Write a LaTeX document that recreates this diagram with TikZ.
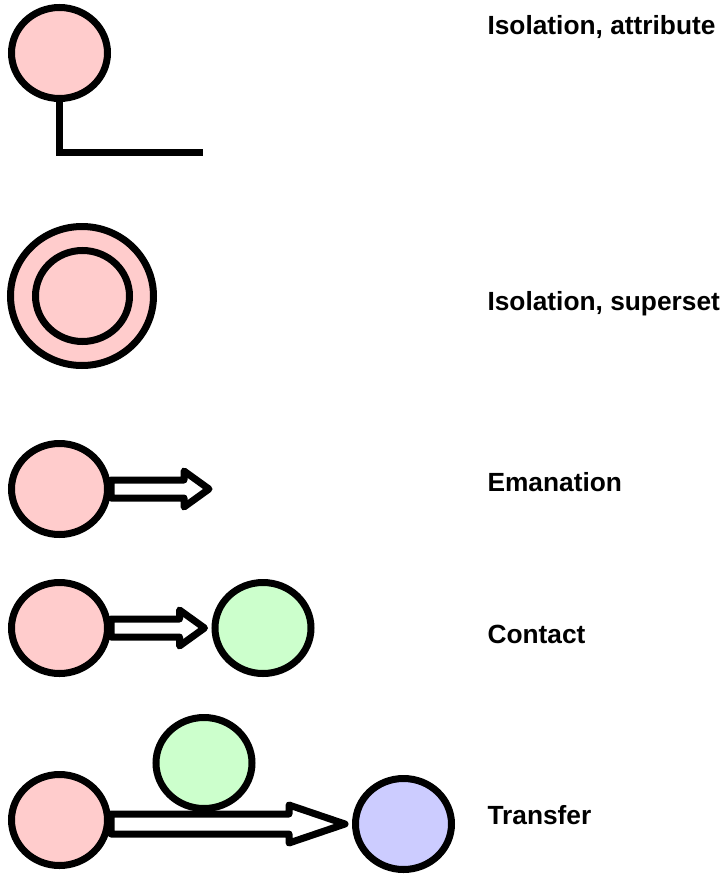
\documentclass[tikz,border=0pt]{standalone}
\usepackage{fontspec}
\setmainfont{Liberation Sans}
\usetikzlibrary{shapes.geometric}
\definecolor{pinkfill}{HTML}{FFCCCC}
\definecolor{greenfill}{HTML}{CCFFCC}
\definecolor{bluefill}{HTML}{CCCCFF}
\tikzset{
	blob/.style = {ellipse, draw, line width = 7pt, inner sep = 0pt, minimum width = 96pt, minimum height = 91pt},
	hollow/.style = {draw, line width = 7pt, fill = white, line join = round},
	caption/.style = {anchor = base west, font = \fontsize{26.3}{30}\selectfont\bfseries}
}
% #1 start node, #2 tip, #3 shaft half width, #4 head half width, #5 head length
\newcommand{\hollowarrow}[5]{
	\path (#1.east |- #2) coordinate (#1 tail);
	\draw [hollow] ([shift = {(0,-#3)}]#1 tail) -- ([shift = {(-#5,-#3)}]#2) -- ([shift = {(-#5,-#4)}]#2) -- (#2)
		-- ([shift = {(-#5,#4)}]#2) -- ([shift = {(-#5,#3)}]#2) -- ([shift = {(0,#3)}]#1 tail) -- cycle;
}
\begin{document}
\begin{tikzpicture} [x = 1pt, y = -1pt]
	\useasboundingbox (0,0) rectangle (724,880);
	% isolation, attribute
	\node [blob, fill = pinkfill] (a1) at (59.5,53) {};
	\coordinate (attr corner) at (59.5,152);
	\coordinate (attr end) at (203,152);
	\draw [line width = 7pt] (a1.south) -- (attr corner) -- (attr end);
	\node [caption] (attr) at (484,35) {Isolation, attribute};
	% isolation, superset
	\node [blob, fill = pinkfill, minimum width = 143pt, minimum height = 139pt] (s1) at (82,296) {};
	\node [blob, fill = pinkfill, minimum width = 94pt, minimum height = 91pt] (s2) at (82.5,296) {};
	\node [caption] (super) at (484,310) {Isolation, superset};
	% emanation
	\node [blob, fill = pinkfill] (e1) at (59.5,489) {};
	\coordinate (e tip) at (209,489);
	\hollowarrow{e1}{e tip}{9}{18}{25}
	\node [caption] (eman) at (484,491) {Emanation};
	% contact
	\node [blob, fill = pinkfill] (c1) at (59.5,628) {};
	\node [blob, fill = greenfill] (c2) at (263,628) {};
	\coordinate (c tip) at ([xshift = -7pt]c2.west);
	\hollowarrow{c1}{c tip}{9}{18}{25}
	\node [caption] (cont) at (484,643) {Contact};
	% transfer
	\node [blob, fill = pinkfill] (t1) at (59.5,820) {};
	\node [blob, fill = bluefill] (t3) at (403.5,824) {};
	\coordinate (t tip) at ([xshift = -7pt]t3.west);
	\hollowarrow{t1}{t tip}{10}{19}{56}
	\node [blob, fill = greenfill] (t2) at (204,763) {};
	\node [caption] (trans) at (484,824) {Transfer};
\end{tikzpicture}
\end{document}
